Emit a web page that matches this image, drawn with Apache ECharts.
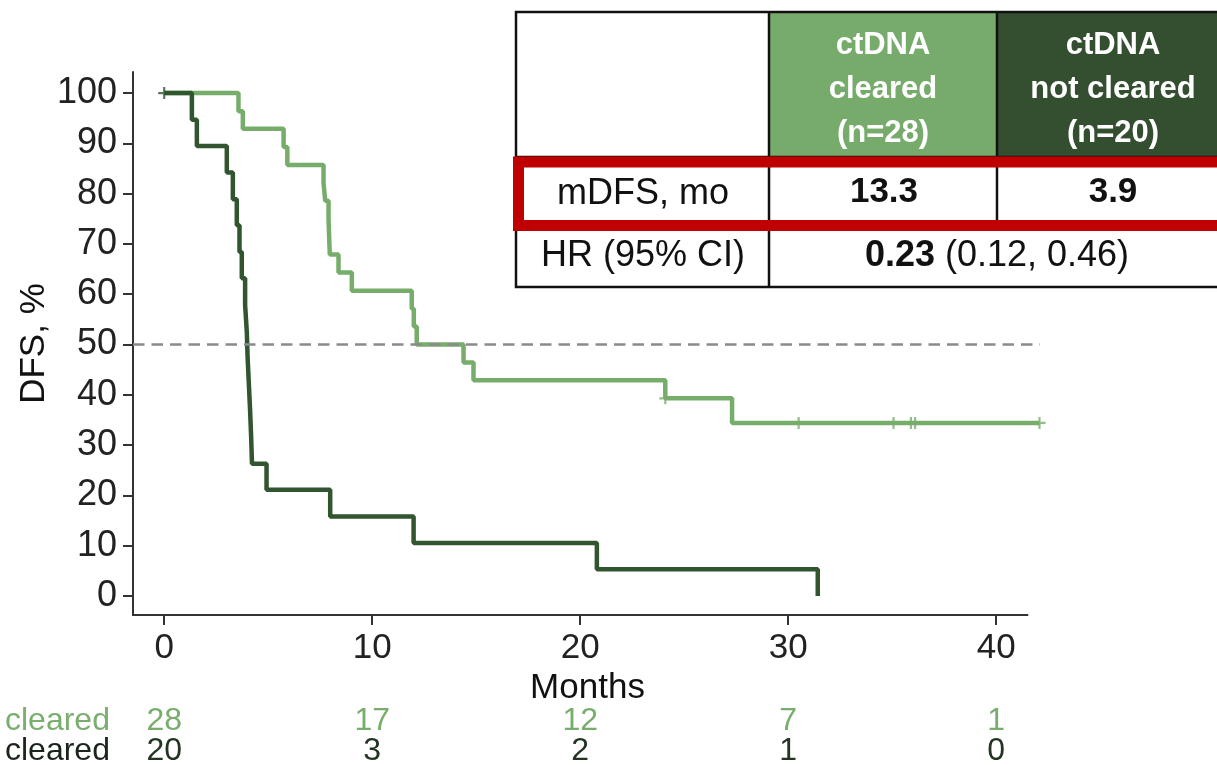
<!DOCTYPE html>
<html>
<head>
<meta charset="utf-8">
<script src="https://cdn.jsdelivr.net/npm/echarts@6/dist/echarts.min.js"></script>
<style>
  html, body { margin: 0; padding: 0; background: #fff; }
  #chart { width: 1217px; height: 765px; }
</style>
</head>
<body>
<div id="chart"></div>
<script>
// Kaplan-Meier disease-free survival, ctDNA cleared vs not cleared
const clearedTimes = [0, 3.57, 3.78, 5.74, 5.92, 7.66, 7.74, 7.90, 7.93, 7.96, 8.38, 9.02, 11.9, 12.0, 12.14, 14.39, 14.87, 24.09, 27.3, 42.08];
const clearedSurv  = [100, 96.4, 92.9, 89.3, 85.7, 82.1, 78.6, 75.0, 71.4, 67.9, 64.3, 60.7, 57.1, 53.6, 50.0, 46.4, 42.9, 39.3, 34.4, 34.4];
const clearedCensorTimes = [24.09, 30.5, 35.06, 35.9, 36.1, 42.08];
const clearedCensorSurv  = [39.3, 34.4, 34.4, 34.4, 34.4, 34.4];

const notClearedTimes = [0, 1.33, 1.57, 3.01, 3.30, 3.49, 3.62, 3.73, 3.89, 3.97, 4.01, 4.07, 4.13, 4.18, 4.22, 4.92, 7.98, 11.99, 20.8, 31.42];
const notClearedSurv  = [100, 94.7, 89.5, 84.2, 78.9, 73.7, 68.4, 63.2, 57.9, 52.6, 47.4, 42.1, 36.8, 31.6, 26.3, 21.1, 15.8, 10.5, 5.3, 0];
const notClearedCensorTimes = [0];
const notClearedCensorSurv  = [100];

const xTicks = [0, 10, 20, 30, 40];
const yTicks = [0, 10, 20, 30, 40, 50, 60, 70, 80, 90, 100];
const medianLevel = 50;

// numbers at risk under the x axis
const riskLabels = ['cleared', 'cleared'];
const clearedAtRisk = [28, 17, 12, 7, 1];
const notClearedAtRisk = [20, 3, 2, 1, 0];

// summary table
const groupHeaders = ['ctDNA\ncleared\n(n=28)', 'ctDNA\nnot cleared\n(n=20)'];
const rowLabels = ['mDFS, mo', 'HR (95% CI)'];
const mdfsValues = ['13.3', '3.9'];
const hrValue = '0.23';
const hrCI = '(0.12, 0.46)';

const LIGHT = '#77ad6b';
const DARK = '#30552f';
const HEAD_LIGHT = '#77ab6c';
const HEAD_DARK = '#344f30';
const FONT = '"Liberation Sans", Arial, sans-serif';
const X_MIN = -1.5, X_AXIS_END = 41.54, X_MAX = 42.2;
const Y_MIN = -3.8, Y_MAX = 104.2;

const zip = (a, b) => a.map((v, i) => [v, b[i]]);
const plus = 'path://M-0.9,-5H0.9V-0.9H5V0.9H0.9V5H-0.9V0.9H-5V-0.9H-0.9Z';

const chart = echarts.init(document.getElementById('chart'), null, { renderer: 'canvas' });

const option = {
  animation: false,
  backgroundColor: '#fff',
  textStyle: { fontFamily: FONT },
  grid: { left: 133, right: 175, top: 72, bottom: 150, containLabel: false },
  xAxis: {
    type: 'value', min: X_MIN, max: X_MAX,
    name: 'Months', nameLocation: 'middle', nameGap: 55,
    nameTextStyle: { fontSize: 35, color: '#111', fontFamily: FONT },
    axisLine: { show: false, onZero: false },
    axisTick: { show: true, length: 10, lineStyle: { color: '#333', width: 2 }, customValues: xTicks },
    axisLabel: { margin: 16, fontSize: 35, color: '#222', fontFamily: FONT, customValues: xTicks },
    splitLine: { show: false }
  },
  yAxis: {
    type: 'value', min: Y_MIN, max: Y_MAX,
    name: 'DFS, %', nameLocation: 'middle', nameGap: 81, nameRotate: 90, nameMoveOverlap: false,
    nameTextStyle: { fontSize: 35, color: '#111', fontFamily: FONT },
    axisLine: { show: true, onZero: false, lineStyle: { color: '#333', width: 2 } },
    axisTick: { show: true, length: 10, lineStyle: { color: '#333', width: 2 }, customValues: yTicks },
    axisLabel: { margin: 16, fontSize: 36, color: '#222', fontFamily: FONT, customValues: yTicks },
    splitLine: { show: false }
  },
  series: [
    {
      type: 'line', name: 'cleared', step: 'end',
      data: zip(clearedTimes, clearedSurv), showSymbol: false, symbol: 'none',
      lineStyle: { color: LIGHT, width: 4.5 }, z: 2
    },
    {
      type: 'line', name: 'not cleared', step: 'end',
      data: zip(notClearedTimes, notClearedSurv), showSymbol: false, symbol: 'none',
      lineStyle: { color: DARK, width: 4.5 }, z: 3
    },
    {
      type: 'scatter', clip: false, symbol: plus, symbolSize: 12,
      data: zip(clearedCensorTimes, clearedCensorSurv),
      itemStyle: { color: LIGHT }, z: 4
    },
    {
      type: 'scatter', clip: false, symbol: plus, symbolSize: 12,
      data: zip(notClearedCensorTimes, notClearedCensorSurv),
      itemStyle: { color: DARK }, z: 4
    },
    {
      type: 'line', symbol: 'none',
      data: [[X_MIN, medianLevel], [42.1, medianLevel]],
      lineStyle: { color: '#8a8a8a', width: 2.5, type: [11.5, 7] }, z: 5
    }
  ]
};
chart.setOption(option);

const graphics = [];
const px = (t) => chart.convertToPixel({ xAxisIndex: 0 }, t);
const py = (v) => chart.convertToPixel({ yAxisIndex: 0 }, v);

// x axis line stops short of the plotted range
graphics.push({
  type: 'line', z: 5,
  shape: { x1: px(X_MIN) - 1, y1: py(Y_MIN), x2: px(X_AXIS_END), y2: py(Y_MIN) },
  style: { stroke: '#333', lineWidth: 2 }
});

// numbers at risk
const riskRows = [clearedAtRisk, notClearedAtRisk];
const riskColors = ['#79ad6d', '#233522'];
const riskY = [721, 751];
riskRows.forEach((row, r) => {
  graphics.push({
    type: 'text', x: 5, y: riskY[r],
    style: { text: riskLabels[r], fill: r === 0 ? '#7aae6e' : '#1b241b', font: '32px ' + FONT, align: 'left', verticalAlign: 'middle' }
  });
  row.forEach((n, i) => {
    graphics.push({
      type: 'text', x: px(xTicks[i]), y: riskY[r],
      style: { text: String(n), fill: riskColors[r], font: '32px ' + FONT, align: 'center', verticalAlign: 'middle' }
    });
  });
});

// summary table
const tX = 516, tY = 12, tB = 287, c1 = 769, c2 = 997, r1 = 157, r2 = 222, tR = 1240;
graphics.push(
  { type: 'rect', shape: { x: c1, y: tY, width: c2 - c1, height: r1 - tY }, style: { fill: HEAD_LIGHT } },
  { type: 'rect', shape: { x: c2, y: tY, width: tR - c2, height: r1 - tY }, style: { fill: HEAD_DARK } },
  { type: 'rect', shape: { x: tX, y: tY, width: tR - tX, height: tB - tY }, style: { fill: null, stroke: '#111', lineWidth: 2.5 } },
  { type: 'line', shape: { x1: c1, y1: tY, x2: c1, y2: tB }, style: { stroke: '#111', lineWidth: 2.5 } },
  { type: 'line', shape: { x1: c2, y1: tY, x2: c2, y2: r2 }, style: { stroke: '#111', lineWidth: 2.5 } },
  { type: 'line', shape: { x1: tX, y1: r1, x2: tR, y2: r1 }, style: { stroke: '#111', lineWidth: 2.5 } },
  { type: 'line', shape: { x1: tX, y1: r2, x2: tR, y2: r2 }, style: { stroke: '#111', lineWidth: 2.5 } }
);
groupHeaders.forEach((h, i) => {
  graphics.push({
    type: 'text', x: i === 0 ? 883 : 1113, y: 89,
    style: { text: h, fill: '#fff', font: 'bold 31px ' + FONT, align: 'center', verticalAlign: 'middle', lineHeight: 44 }
  });
});
graphics.push(
  { type: 'text', x: 643, y: 194, style: { text: rowLabels[0], fill: '#111', font: '36px ' + FONT, align: 'center', verticalAlign: 'middle' } },
  { type: 'text', x: 884, y: 192, style: { text: mdfsValues[0], fill: '#111', font: 'bold 35px ' + FONT, align: 'center', verticalAlign: 'middle' } },
  { type: 'text', x: 1113, y: 192, style: { text: mdfsValues[1], fill: '#111', font: 'bold 35px ' + FONT, align: 'center', verticalAlign: 'middle' } },
  { type: 'text', x: 643, y: 256, style: { text: rowLabels[1], fill: '#111', font: '36px ' + FONT, align: 'center', verticalAlign: 'middle' } },
  {
    type: 'text', x: 997, y: 256,
    style: {
      text: '{b|' + hrValue + '} ' + hrCI, fill: '#111', font: '36px ' + FONT, align: 'center', verticalAlign: 'middle',
      rich: { b: { fontWeight: 'bold', fontSize: 36, fontFamily: FONT, fill: '#111' } }
    }
  },
  // highlight around the median row
  { type: 'rect', shape: { x: 518.5, y: 162, width: 740, height: 63.5 }, style: { fill: null, stroke: '#c00000', lineWidth: 11 }, z: 10 }
);
chart.setOption({ graphic: graphics });
</script>
</body>
</html>
